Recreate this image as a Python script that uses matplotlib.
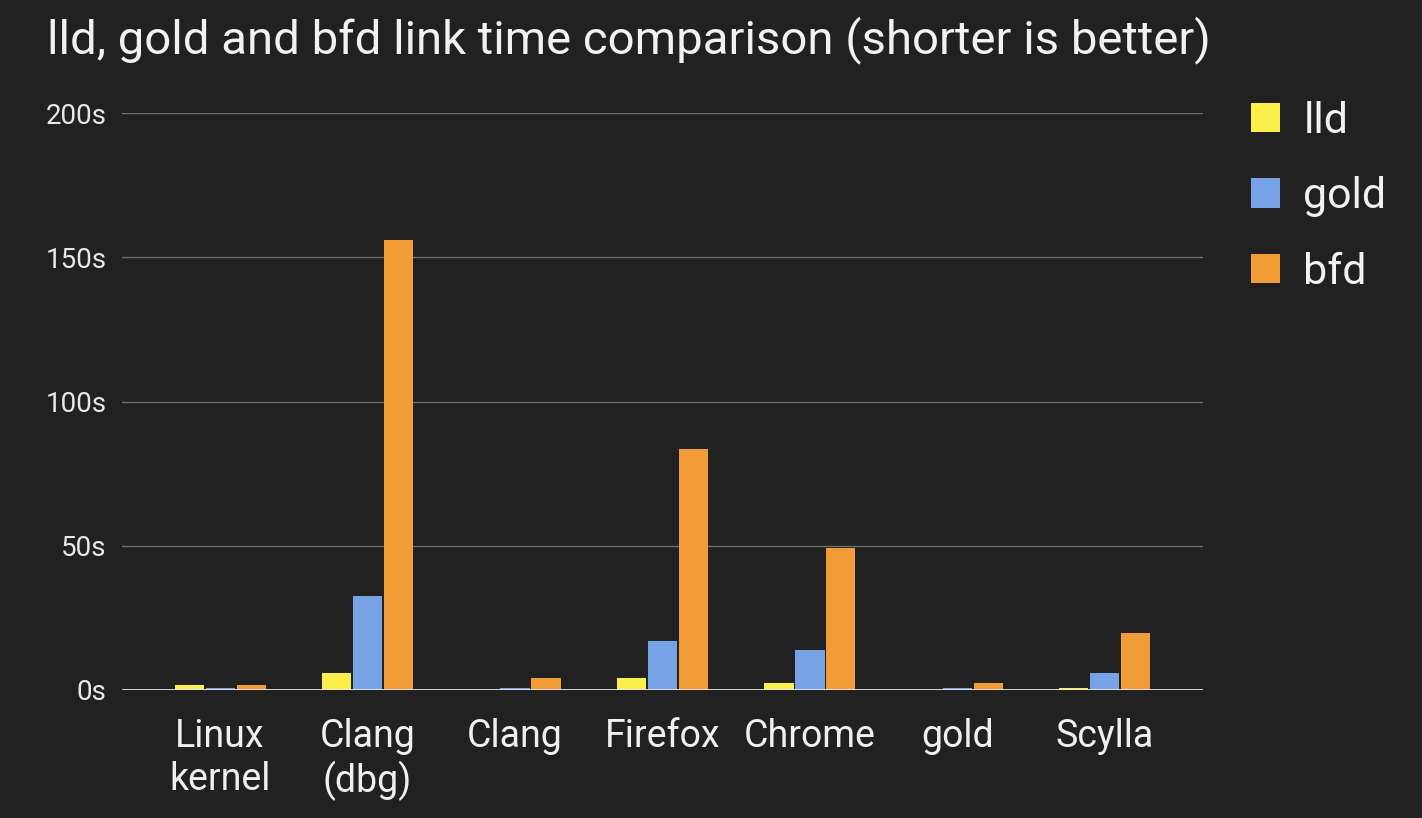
import numpy as np
import matplotlib.pyplot as plt

categories = ['Linux\nkernel', 'Clang\n(dbg)', 'Clang', 'Firefox', 'Chrome', 'gold', 'Scylla']
lld = [1.7, 5.8, 0.0, 4.0, 2.5, 0.0, 0.8]
gold = [0.8, 32.6, 0.8, 17.0, 13.9, 0.8, 5.8]
bfd = [1.7, 156.0, 4.0, 83.5, 49.2, 2.5, 19.8]
yticks = [0, 50, 100, 150, 200]

bg = '#212121'
colors = ['#FBF04A', '#78A2E6', '#F19C37']

plt.rcParams['font.family'] = ['Roboto', 'DejaVu Sans']

fig = plt.figure(figsize=(14.22, 8.18), dpi=100, facecolor=bg)
ax = fig.add_axes([122/1422, 1 - 690/818, (1203-122)/1422, (690-113)/818])
ax.set_facecolor(bg)

x = np.arange(len(categories))
w = 0.197
step = 0.21
for i, (vals, name) in enumerate(zip([lld, gold, bfd], ['lld', 'gold', 'bfd'])):
    ax.bar(x + (i - 1) * step, vals, width=w, color=colors[i], label=name, zorder=3)

ax.set_xlim(-0.665, len(categories) - 1 + 0.665)
ax.set_ylim(0, 200)
ax.set_yticks(yticks)
ax.set_yticklabels([f'{t}s' for t in yticks], color='#e8e8e8', fontsize=20)
ax.set_xticks(x)
ax.set_xticklabels(categories, color='#f0f0f0', fontsize=27, linespacing=1.2)
ax.tick_params(length=0, axis='both')
ax.tick_params(axis='x', pad=20)
ax.tick_params(axis='y', pad=11)
ax.grid(axis='y', color='#6e6e6e', linewidth=1, zorder=0)
ax.axhline(0, color='#e6e6e6', linewidth=2, zorder=4)
for s in ax.spines.values():
    s.set_visible(False)

fig.text(47/1422, 1 - 40/818, 'lld, gold and bfd link time comparison (shorter is better)',
         color='#f2f2f2', fontsize=34, va='center', ha='left')

leg = fig.legend(loc='upper left', bbox_to_anchor=(1212/1422, 1 - 62/818),
                 frameon=False, fontsize=31, handlelength=0.67, handleheight=0.67,
                 labelspacing=0.8, handletextpad=0.55)
for t in leg.get_texts():
    t.set_color('#f2f2f2')

fig.savefig('out.png', dpi=100, facecolor=bg)
